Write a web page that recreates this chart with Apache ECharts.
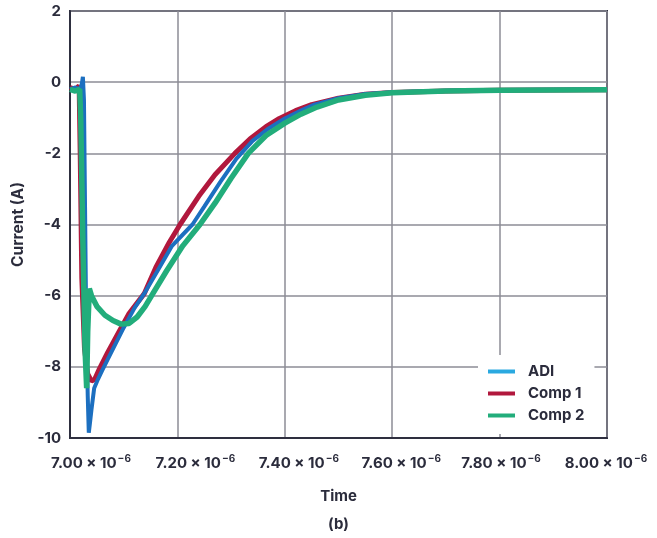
<!DOCTYPE html>
<html>
<head>
<meta charset="utf-8">
<script src="https://cdn.jsdelivr.net/npm/echarts@6/dist/echarts.min.js"></script>
<style>
  html, body { margin: 0; padding: 0; background: #fff; }
  #chart { width: 657px; height: 538px; }
</style>
</head>
<body>
<div id="chart"></div>
<script>
// time in units of 1e-6 s, current in A
var adiTime = [7.000, 7.010, 7.018, 7.022, 7.024, 7.026, 7.028, 7.030, 7.033, 7.035, 7.037, 7.040, 7.045, 7.052, 7.060, 7.070, 7.085, 7.100, 7.120, 7.140, 7.165, 7.190, 7.228, 7.250, 7.280, 7.310, 7.340, 7.370, 7.400, 7.430, 7.455, 7.500, 7.550, 7.600, 7.700, 7.800, 7.900, 8.000];
var adiValues = [-0.2, -0.15, -0.2, -0.05, 0.15, -0.5, -3.5, -6.5, -8.8, -9.85, -9.6, -9.2, -8.6, -8.35, -8.1, -7.8, -7.35, -6.9, -6.35, -5.9, -5.25, -4.6, -4.0, -3.5, -2.8, -2.15, -1.65, -1.3, -1.02, -0.8, -0.63, -0.45, -0.33, -0.28, -0.24, -0.22, -0.21, -0.2];

var comp1Time = [7.000, 7.010, 7.017, 7.019, 7.022, 7.027, 7.033, 7.040, 7.046, 7.055, 7.070, 7.090, 7.110, 7.138, 7.160, 7.185, 7.205, 7.240, 7.270, 7.307, 7.335, 7.365, 7.390, 7.420, 7.450, 7.500, 7.550, 7.600, 7.700, 7.800, 7.900, 8.000];
var comp1Values = [-0.15, -0.2, -0.1, -2.0, -5.5, -7.5, -8.2, -8.4, -8.35, -8.05, -7.6, -7.05, -6.5, -5.95, -5.2, -4.5, -4.0, -3.2, -2.6, -2.0, -1.6, -1.25, -1.02, -0.8, -0.63, -0.45, -0.34, -0.29, -0.25, -0.23, -0.22, -0.21];

var comp2Time = [7.000, 7.010, 7.018, 7.020, 7.024, 7.028, 7.031, 7.033, 7.036, 7.040, 7.050, 7.065, 7.080, 7.095, 7.110, 7.125, 7.140, 7.152, 7.180, 7.210, 7.242, 7.270, 7.300, 7.332, 7.365, 7.400, 7.430, 7.460, 7.500, 7.550, 7.600, 7.700, 7.800, 7.900, 8.000];
var comp2Values = [-0.2, -0.25, -0.2, -1.0, -4.5, -7.5, -8.6, -7.0, -5.8, -6.0, -6.3, -6.55, -6.7, -6.8, -6.78, -6.6, -6.3, -6.0, -5.3, -4.6, -4.0, -3.4, -2.7, -2.0, -1.5, -1.15, -0.9, -0.7, -0.5, -0.37, -0.3, -0.25, -0.23, -0.22, -0.21];

var seriesNames = ['ADI', 'Comp 1', 'Comp 2'];

function pairs(xs, ys) {
    return xs.map(function (x, i) { return [x, ys[i]]; });
}

var textColor = '#2b2c3c';
var font = 'Inter, Roboto, sans-serif';

// tick labels in the original are spread a little wider than the grid
var labelShift = [42, 36, 28, 18, 3, -2];
var labelRich = {
    b: { color: textColor, fontFamily: font, fontWeight: 'bold', fontSize: 15 },
    s: { color: textColor, fontFamily: font, fontWeight: 'bold', fontSize: 10, padding: [0, 0, 8, 1] }
};
labelShift.forEach(function (w, i) {
    labelRich['w' + i] = { width: Math.abs(w), fontSize: 10 };
});

var myChart = echarts.init(document.getElementById('chart'));
var option = {
    animation: false,
    grid: {
        left: 70,
        right: 50,
        top: 11,
        bottom: 100,
        show: true,
        borderColor: '#2e2f3f',
        borderWidth: 2,
        backgroundColor: 'transparent'
    },
    xAxis: {
        type: 'value',
        min: 7,
        max: 8,
        interval: 0.2,
        name: 'Time',
        nameLocation: 'middle',
        nameGap: 51,
        nameTextStyle: { color: textColor, fontFamily: font, fontWeight: 'bold', fontSize: 15 },
        axisLine: { onZero: false, lineStyle: { color: '#2e2f3f', width: 2 } },
        axisTick: { show: false },
        axisLabel: {
            margin: 16,
            formatter: function (v) {
                var k = Math.round((v - 7) / 0.2);
                var txt = '{b|' + v.toFixed(2) + ' × 10}{s|−6}';
                var sp = '{w' + k + '| }';
                return labelShift[k] >= 0 ? sp + txt : txt + sp;
            },
            rich: labelRich
        },
        splitLine: { lineStyle: { color: '#8d8d96', width: 1.5 } }
    },
    yAxis: {
        type: 'value',
        min: -10,
        max: 2,
        interval: 2,
        name: 'Current (A)',
        nameLocation: 'middle',
        nameGap: 40,
        nameTextStyle: { color: textColor, fontFamily: font, fontWeight: 'bold', fontSize: 15.5 },
        axisLine: { onZero: false, lineStyle: { color: '#2e2f3f', width: 2 } },
        axisTick: { show: false },
        axisLabel: {
            color: textColor,
            fontFamily: font,
            fontWeight: 'bold',
            fontSize: 15,
            margin: 9
        },
        splitLine: { lineStyle: { color: '#8d8d96', width: 1.5 } }
    },
    legend: {
        orient: 'vertical',
        left: 478,
        top: 355,
        padding: [8, 10, 10, 10],
        backgroundColor: '#fff',
        icon: 'rect',
        itemWidth: 27,
        itemHeight: 4,
        itemGap: 5,
        textStyle: { color: textColor, fontFamily: font, fontWeight: 'bold', fontSize: 15, lineHeight: 17, padding: [0, 0, 0, 8] },
        data: [
            { name: seriesNames[0], itemStyle: { color: '#2aa9e0' } },
            { name: seriesNames[1], itemStyle: { color: '#b1183d' } },
            { name: seriesNames[2], itemStyle: { color: '#22ad7b' } }
        ]
    },
    graphic: [{
        type: 'text',
        left: 328,
        top: 517,
        style: { text: '(b)', fill: textColor, font: 'bold 15px ' + font }
    }],
    series: [{
        name: seriesNames[1],
        type: 'line',
        data: pairs(comp1Time, comp1Values),
        showSymbol: false,
        z: 2,
        lineStyle: { color: '#b1183d', width: 5 },
        itemStyle: { color: '#b1183d' }
    }, {
        name: seriesNames[0],
        type: 'line',
        data: pairs(adiTime, adiValues),
        showSymbol: false,
        z: 3,
        lineStyle: { color: '#1c6fc0', width: 4 },
        itemStyle: { color: '#1c6fc0' }
    }, {
        name: seriesNames[2],
        type: 'line',
        data: pairs(comp2Time, comp2Values),
        showSymbol: false,
        z: 4,
        lineStyle: { color: '#22ad7b', width: 5.5 },
        itemStyle: { color: '#22ad7b' }
    }]
};
myChart.setOption(option);
</script>
</body>
</html>
